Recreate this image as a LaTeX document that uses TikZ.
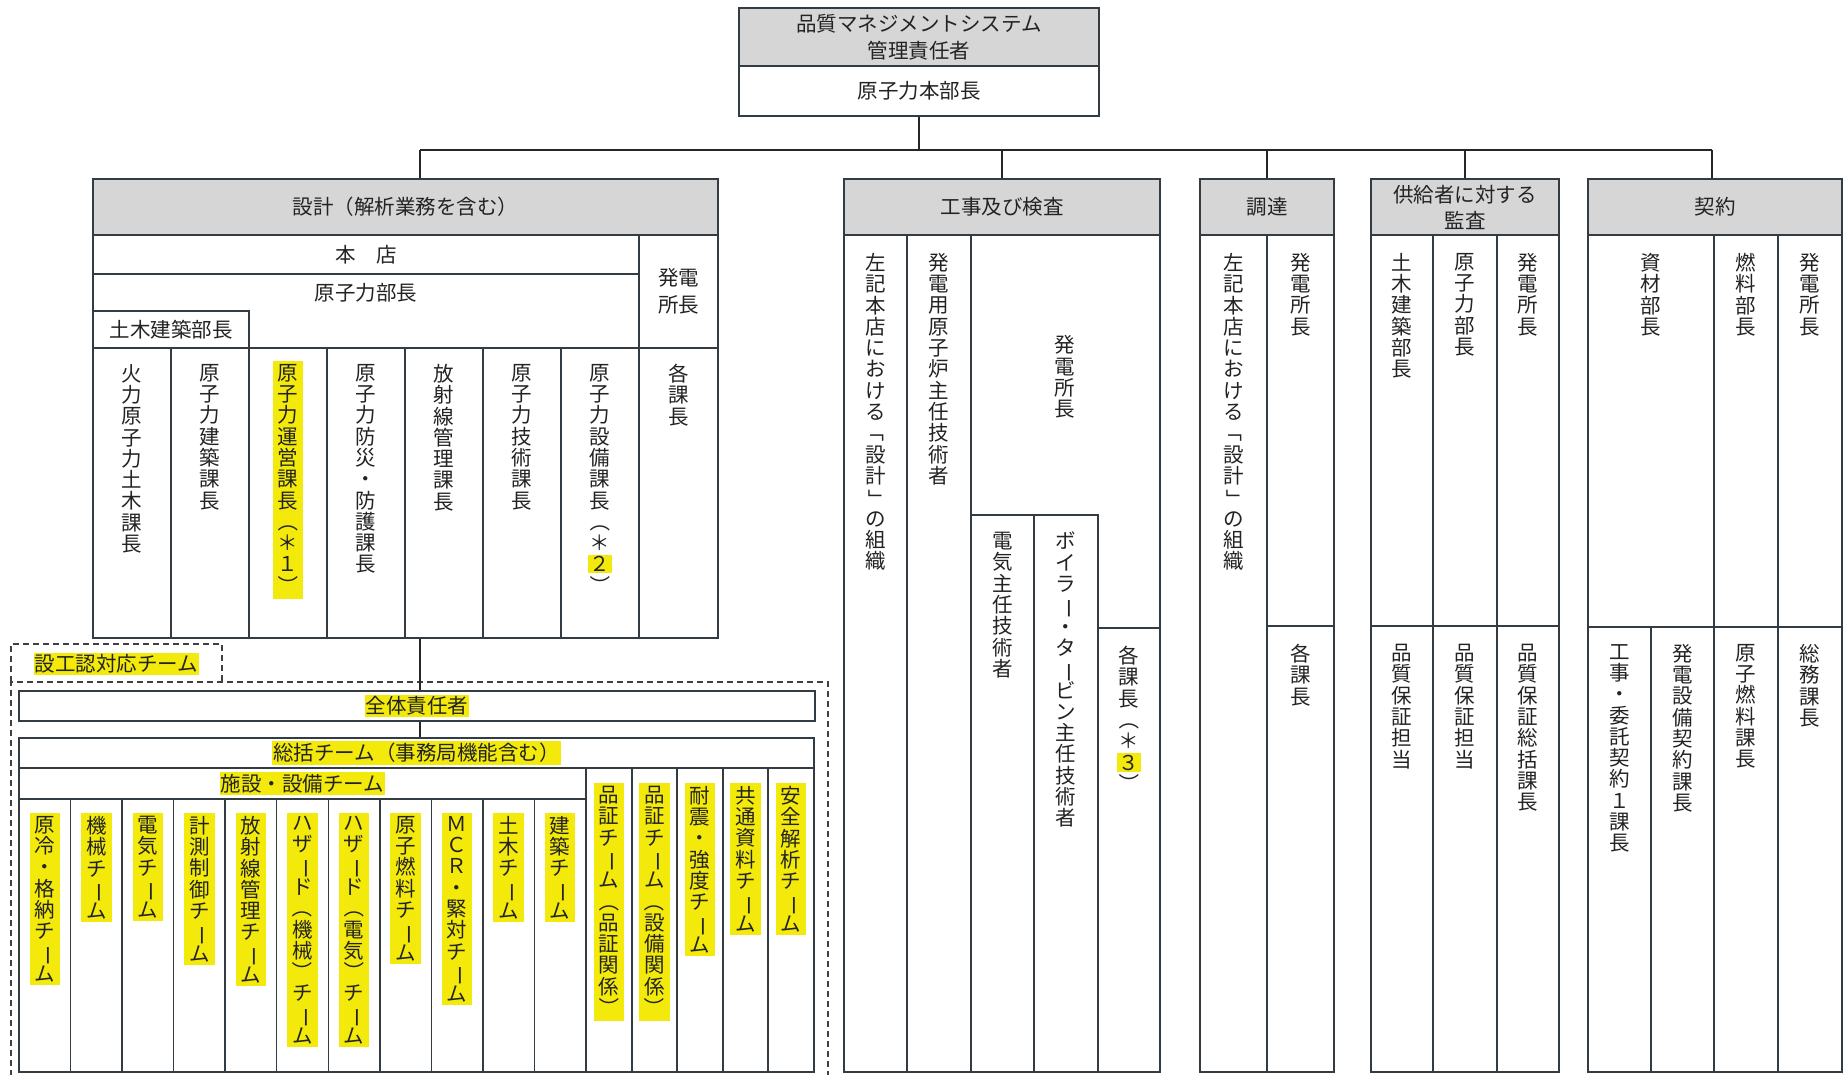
\documentclass[tikz,border=0pt]{standalone}
\usepackage{fontspec}
\setmainfont{Noto Sans CJK JP}
\usepackage{graphicx}
\usetikzlibrary{fit}
\definecolor{bordc}{RGB}{50,60,66}
\definecolor{hdrc}{RGB}{214,214,214}
\definecolor{hly}{RGB}{243,234,12}
\definecolor{txtc}{RGB}{35,35,35}
\newdimen\vtpitch \vtpitch=21.3pt
\newcommand\vrot[1]{\rotatebox[origin=c]{-90}{#1}}
\newcommand\hlc[1]{{\fboxsep=1.5pt\colorbox{hly}{#1}}}
\ExplSyntaxOn
\cs_new:Npn \vt_char:n #1
  {
    \str_case:nnF {#1}
      {
        {ー}{\vrot{ー}}
        {（}{\vrot{（}}
        {）}{\vrot{）}}
        {「}{\vrot{「}}
        {」}{\vrot{」}}
      }
      {#1}
  }
\NewDocumentCommand \vt { m }
  {
    \vbox:n
      {
        \baselineskip=\vtpitch
        \lineskiplimit=-100pt
        \lineskip=0pt
        \exp_args:No \tl_map_inline:nn {#1}
          { \hbox_to_wd:nn {1em} { \hss \vt_char:n {##1} \hss } }
      }
  }
\ExplSyntaxOff
\newcommand\cell[6][]{\node[cellst,#1,fit={(#3,#4)(#5,#6)}] (#2) {};}
\begin{document}
\begin{tikzpicture}[x=1pt,y=-1pt,
  every node/.style={text=txtc},
  cellst/.style={draw=bordc, line width=1.4pt, inner sep=0pt, fill=white},
  hdr/.style={fill=hdrc},
  vtx/.style={inner sep=0pt, anchor=north, font=\fontsize{20.5}{21.3}\selectfont},
  vhl/.style={vtx, fill=hly, inner xsep=5pt, inner ysep=3pt},
  htx/.style={inner sep=0pt, font=\fontsize{20.5}{27}\selectfont, align=center},
  hhl/.style={htx, fill=hly, inner xsep=1pt, inner ysep=2pt},
  conn/.style={draw=black!85, line width=1.2pt},
  dashbox/.style={draw=black!75, line width=1.2pt, dash pattern=on 6pt off 4pt}
]
\useasboundingbox (0,0) rectangle (1843,1075);
\fill[white] (0,0) rectangle (1843,1075);

% ---------- top box
\cell[hdr]{qmsH}{739}{8}{1099}{66}
\cell{qmsB}{739}{66}{1099}{116}
\node[htx] (qmsHt) at (qmsH.center) {品質マネジメントシステム\\管理責任者};
\node[htx] (qmsBt) at (qmsB.center) {原子力本部長};

% ---------- design
\cell{dBox}{93}{179}{718}{638}
\cell[hdr]{dH}{93}{179}{718}{235}
\cell{dHon}{93}{235}{639}{274}
\cell{dGen}{93}{274}{639}{348}
\cell{dDob}{93}{311}{249}{348}
\cell{dHat}{639}{235}{718}{348}
\foreach \i/\a/\b in {1/93/171,2/171/249,3/249/327,4/327/405,5/405/483,6/483/561,7/561/639,8/639/718}
  {\cell{dC\i}{\a}{348}{\b}{638}}
\node[htx] (dHt) at (dH.center) {設計（解析業務を含む）};
\node[htx] (dHont) at (366,255) {本　店};
\node[htx] (dGent) at (366,293) {原子力部長};
\node[htx] (dDobt) at (dDob.center) {土木建築部長};
\node[htx] (dHatt) at (dHat.center) {発電\\所長};
\node[vtx] (dT1) at (132,364) {\vt{火力原子力土木課長}};
\node[vtx] (dT2) at (210,364) {\vt{原子力建築課長}};
\node[vhl] (dT3) at (288,361) {\vt{原子力運営課長（＊１）}};
\node[vtx] (dT4) at (366,364) {\vt{原子力防災・防護課長}};
\node[vtx] (dT5) at (444,364) {\vt{放射線管理課長}};
\node[vtx] (dT6) at (522,364) {\vt{原子力技術課長}};
\node[vtx] (dT7) at (600,364) {\vt{原子力設備課長（＊{\hlc{２}}）}};
\node[vtx] (dT8) at (678.5,364) {\vt{各課長}};

% ---------- construction & inspection
\cell{kjBox}{844}{179}{1160}{1072}
\cell[hdr]{kjH}{844}{179}{1160}{235}
\cell{kjC1}{844}{235}{907}{1072}
\cell{kjC2}{907}{235}{971}{1072}
\cell{kjE}{971}{515}{1034}{1072}
\cell{kjB}{1034}{515}{1098}{1072}
\cell{kjK}{1098}{628}{1160}{1072}
\node[htx] (kjHt) at (kjH.center) {工事及び検査};
\node[vtx] (kjT1) at (875.5,253) {\vt{左記本店における「設計」の組織}};
\node[vtx] (kjT2) at (939,253) {\vt{発電用原子炉主任技術者}};
\node[vtx,anchor=center] (kjT3) at (1065,377) {\vt{発電所長}};
\node[vtx] (kjT4) at (1002.5,532) {\vt{電気主任技術者}};
\node[vtx] (kjT5) at (1066,532) {\vt{ボイラー・タービン主任技術者}};
\node[vtx] (kjT6) at (1129,646) {\vt{各課長（＊{\hlc{３}}）}};

% ---------- procurement
\cell{chBox}{1200}{179}{1334}{1072}
\cell[hdr]{chH}{1200}{179}{1334}{235}
\cell{chC1}{1200}{235}{1267}{1072}
\cell{chC2}{1267}{235}{1334}{626}
\cell{chC3}{1267}{626}{1334}{1072}
\node[htx] (chHt) at (chH.center) {調達};
\node[vtx] (chT1) at (1233.5,253) {\vt{左記本店における「設計」の組織}};
\node[vtx] (chT2) at (1300.5,253) {\vt{発電所長}};
\node[vtx] (chT3) at (1300.5,644) {\vt{各課長}};

% ---------- supplier audit
\cell[hdr]{ksH}{1371}{179}{1559}{235}
\cell{ksA1}{1371}{235}{1433}{626}
\cell{ksA2}{1433}{235}{1497}{626}
\cell{ksA3}{1497}{235}{1559}{626}
\cell{ksB1}{1371}{626}{1433}{1072}
\cell{ksB2}{1433}{626}{1497}{1072}
\cell{ksB3}{1497}{626}{1559}{1072}
\node[htx,font=\fontsize{20.5}{26}\selectfont] (ksHt) at (ksH.center) {供給者に対する\\監査};
\node[vtx] (ksT1) at (1402,253) {\vt{土木建築部長}};
\node[vtx] (ksT2) at (1465,253) {\vt{原子力部長}};
\node[vtx] (ksT3) at (1528,253) {\vt{発電所長}};
\node[vtx] (ksT4) at (1402,644) {\vt{品質保証担当}};
\node[vtx] (ksT5) at (1465,644) {\vt{品質保証担当}};
\node[vtx] (ksT6) at (1528,644) {\vt{品質保証総括課長}};

% ---------- contracts
\cell[hdr]{kyH}{1588}{179}{1842}{235}
\cell{kyA1}{1588}{235}{1714}{627}
\cell{kyA2}{1714}{235}{1778}{627}
\cell{kyA3}{1778}{235}{1842}{627}
\cell{kyB1}{1588}{627}{1651}{1072}
\cell{kyB2}{1651}{627}{1714}{1072}
\cell{kyB3}{1714}{627}{1778}{1072}
\cell{kyB4}{1778}{627}{1842}{1072}
\node[htx] (kyHt) at (kyH.center) {契約};
\node[vtx] (kyT1) at (1651,253) {\vt{資材部長}};
\node[vtx] (kyT2) at (1746,253) {\vt{燃料部長}};
\node[vtx] (kyT3) at (1810,253) {\vt{発電所長}};
\node[vtx] (kyT4) at (1619.5,644) {\vt{工事・委託契約１課長}};
\node[vtx] (kyT5) at (1682.5,644) {\vt{発電設備契約課長}};
\node[vtx] (kyT6) at (1746,644) {\vt{原子燃料課長}};
\node[vtx] (kyT7) at (1810,644) {\vt{総務課長}};

% ---------- bus connectors
\coordinate (busL) at (420,150);
\coordinate (busR) at (1712,150);
\draw[conn] (qmsB.south) -- (qmsB.south |- busL);
\draw[conn] (busL) -- (busR);
\draw[conn] (busL) -- (busL |- dH.north);
\draw[conn] (kjH.north |- busL) -- (kjH.north);
\draw[conn] (chH.north |- busL) -- (chH.north);
\draw[conn] (ksH.north |- busL) -- (ksH.north);
\draw[conn] (busR) -- (busR |- kyH.north);

% ---------- design approval team
\draw[dashbox] (11,682) -- (11,644) -- (222,644) -- (222,682);
\draw[dashbox] (11,1076) -- (11,682) -- (828,682) -- (828,1076);
\node[hhl] (sktL) at (116.5,664) {設工認対応チーム};
\cell{zt}{19}{691}{815}{721}
\cell{st}{19}{738}{814}{768}
\cell{sh}{19}{768}{586}{799}
\node[hhl] (ztt) at (zt.center) {全体責任者};
\node[hhl] (stt) at (st.center) {総括チーム（事務局機能含む）};
\node[hhl] (sht) at (sh.center) {施設・設備チーム};
\foreach \i in {0,...,10}{
  \pgfmathsetmacro\xa{19+51.545*\i}
  \pgfmathsetmacro\xb{19+51.545*(\i+1)}
  \cell{tc\i}{\xa}{799}{\xb}{1072}
}
\foreach \i/\a/\b in {1/586/632,2/632/677,3/677/723,4/723/768,5/768/814}
  {\cell{rc\i}{\a}{768}{\b}{1072}}
\node[vhl] (tt0) at (44.8,813) {\vt{原冷・格納チーム}};
\node[vhl] (tt1) at (96.3,813) {\vt{機械チーム}};
\node[vhl] (tt2) at (147.8,813) {\vt{電気チーム}};
\node[vhl] (tt3) at (199.4,813) {\vt{計測制御チーム}};
\node[vhl] (tt4) at (250.9,813) {\vt{放射線管理チーム}};
\node[vhl] (tt5) at (302.5,813) {\vt{ハザード（機械）チーム}};
\node[vhl] (tt6) at (354,813) {\vt{ハザード（電気）チーム}};
\node[vhl] (tt7) at (405.5,813) {\vt{原子燃料チーム}};
\node[vhl] (tt8) at (457.1,813) {\vt{ＭＣＲ・緊対チーム}};
\node[vhl] (tt9) at (508.6,813) {\vt{土木チーム}};
\node[vhl] (tt10) at (560.2,813) {\vt{建築チーム}};
\node[vhl] (rt1) at (609,783) {\vt{品証チーム（品証関係）}};
\node[vhl] (rt2) at (654.5,783) {\vt{品証チーム（設備関係）}};
\node[vhl] (rt3) at (700,783) {\vt{耐震・強度チーム}};
\node[vhl] (rt4) at (745.5,783) {\vt{共通資料チーム}};
\node[vhl] (rt5) at (791,783) {\vt{安全解析チーム}};
\draw[conn] (busL |- dBox.south) -- (busL |- zt.north);
\draw[conn] (busL |- zt.south) -- (busL |- st.north);
\end{tikzpicture}
\end{document}
